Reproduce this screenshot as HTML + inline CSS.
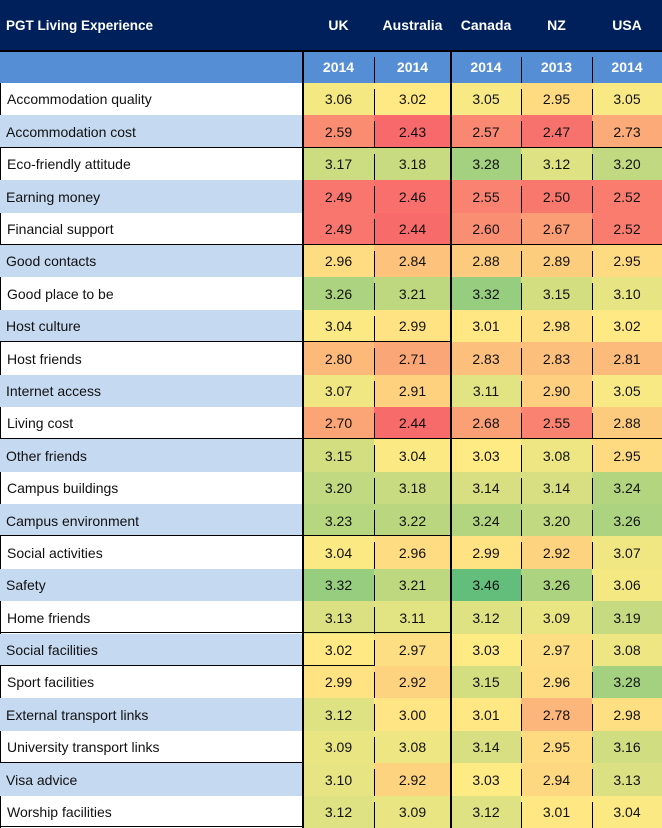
<!DOCTYPE html>
<html><head><meta charset="utf-8"><style>
body{margin:0;width:662px;height:828px;overflow:hidden;background:#fff;font-family:"Liberation Sans",sans-serif;position:relative}
.a{position:absolute;box-sizing:border-box}
.t{display:flex;align-items:center;justify-content:center;font-size:14px;color:#111}
</style></head><body>
<div class="a" style="left:0;top:0;width:662px;height:50px;background:#00205b"></div>
<div class="a" style="left:0;top:51px;width:662px;height:32px;background:#558ed5"></div>
<div class="a" style="left:6px;top:18px;color:#fff;font-weight:bold;font-size:13.5px">PGT Living Experience</div>
<div id="c"></div>
<script>
var cols=[[303,374,"UK"],[374,451,"Australia"],[451,521,"Canada"],[521,592,"NZ"],[592,662,"USA"]];
var yrs=["2014","2014","2014","2013","2014"];
var rows=[["Accommodation quality",3.06,3.02,3.05,2.95,3.05],["Accommodation cost",2.59,2.43,2.57,2.47,2.73],["Eco-friendly attitude",3.17,3.18,3.28,3.12,3.20],["Earning money",2.49,2.46,2.55,2.50,2.52],["Financial support",2.49,2.44,2.60,2.67,2.52],["Good contacts",2.96,2.84,2.88,2.89,2.95],["Good place to be",3.26,3.21,3.32,3.15,3.10],["Host culture",3.04,2.99,3.01,2.98,3.02],["Host friends",2.80,2.71,2.83,2.83,2.81],["Internet access",3.07,2.91,3.11,2.90,3.05],["Living cost",2.70,2.44,2.68,2.55,2.88],["Other friends",3.15,3.04,3.03,3.08,2.95],["Campus buildings",3.20,3.18,3.14,3.14,3.24],["Campus environment",3.23,3.22,3.24,3.20,3.26],["Social activities",3.04,2.96,2.99,2.92,3.07],["Safety",3.32,3.21,3.46,3.26,3.06],["Home friends",3.13,3.11,3.12,3.09,3.19],["Social facilities",3.02,2.97,3.03,2.97,3.08],["Sport facilities",2.99,2.92,3.15,2.96,3.28],["External transport links",3.12,3.00,3.01,2.78,2.98],["University transport links",3.09,3.08,3.14,2.95,3.16],["Visa advice",3.10,2.92,3.03,2.94,3.13],["Worship facilities",3.12,3.09,3.12,3.01,3.04]];
function mix(a,b,f){return "rgb("+a.map(function(v,i){return Math.round(v+(b[i]-v)*f)}).join(",")+")"}
var R=[248,105,107],Y=[255,235,132],G=[99,190,123],mn=2.43,mx=3.46,md=3.03;
function col(v){return v<md?mix(R,Y,(v-mn)/(md-mn)):mix(Y,G,(v-md)/(mx-md))}
var h="",L="";
cols.forEach(function(c,i){var w=c[1]-c[0];
h+='<div class="a t" style="left:'+c[0]+'px;top:12px;width:'+w+'px;height:26px;color:#fff;font-weight:bold">'+c[2]+'</div>';
h+='<div class="a t" style="left:'+c[0]+'px;top:51px;width:'+w+'px;height:32px;color:#fff;font-weight:bold">'+yrs[i]+'</div>';});
var top0=83,rh=745/23;
rows.forEach(function(r,i){var y=top0+i*rh;
h+='<div class="a" style="left:0;top:'+y+'px;width:303px;height:'+(rh+0.5)+'px;background:'+(i%2?'#c5d9f1':'#fff')+';display:flex;align-items:center;padding-left:6px;font-size:14px;color:#111;'+(i%2?'':'border-left:1px solid #000')+'">'+r[0]+'</div>';
cols.forEach(function(c,j){h+='<div class="a t" style="left:'+c[0]+'px;top:'+y+'px;width:'+(c[1]-c[0])+'px;height:'+(rh+0.5)+'px;background:'+col(r[j+1])+'">'+r[j+1].toFixed(2)+'</div>';});
cols.forEach(function(c,j){if(j>0)L+='<div class="a" style="left:'+(c[0]-0.5)+'px;top:'+(y+6)+'px;width:1.5px;height:'+(rh-6)+'px;background:#000"></div>';});
});
[[147,662],[244,662],[341,451],[438,662],[535,451],[632,451],[665,375],[762,303],[826,303]].forEach(function(l){
L+='<div class="a" style="left:0;top:'+(l[0]-0.5)+'px;width:'+l[1]+'px;height:1.5px;background:#000"></div>';});
L+='<div class="a" style="left:0;top:50px;width:662px;height:1.5px;background:#000"></div>';
L+='<div class="a" style="left:302px;top:51px;width:1.5px;height:777px;background:#000"></div>';
L+='<div class="a" style="left:450px;top:51px;width:1.5px;height:777px;background:#000"></div>';
cols.forEach(function(c,j){if(j>0&&j!=2)L+='<div class="a" style="left:'+(c[0]-0.5)+'px;top:57px;width:1.5px;height:26px;background:#000"></div>';});
document.getElementById("c").innerHTML=h+L;
</script>
</body></html>
